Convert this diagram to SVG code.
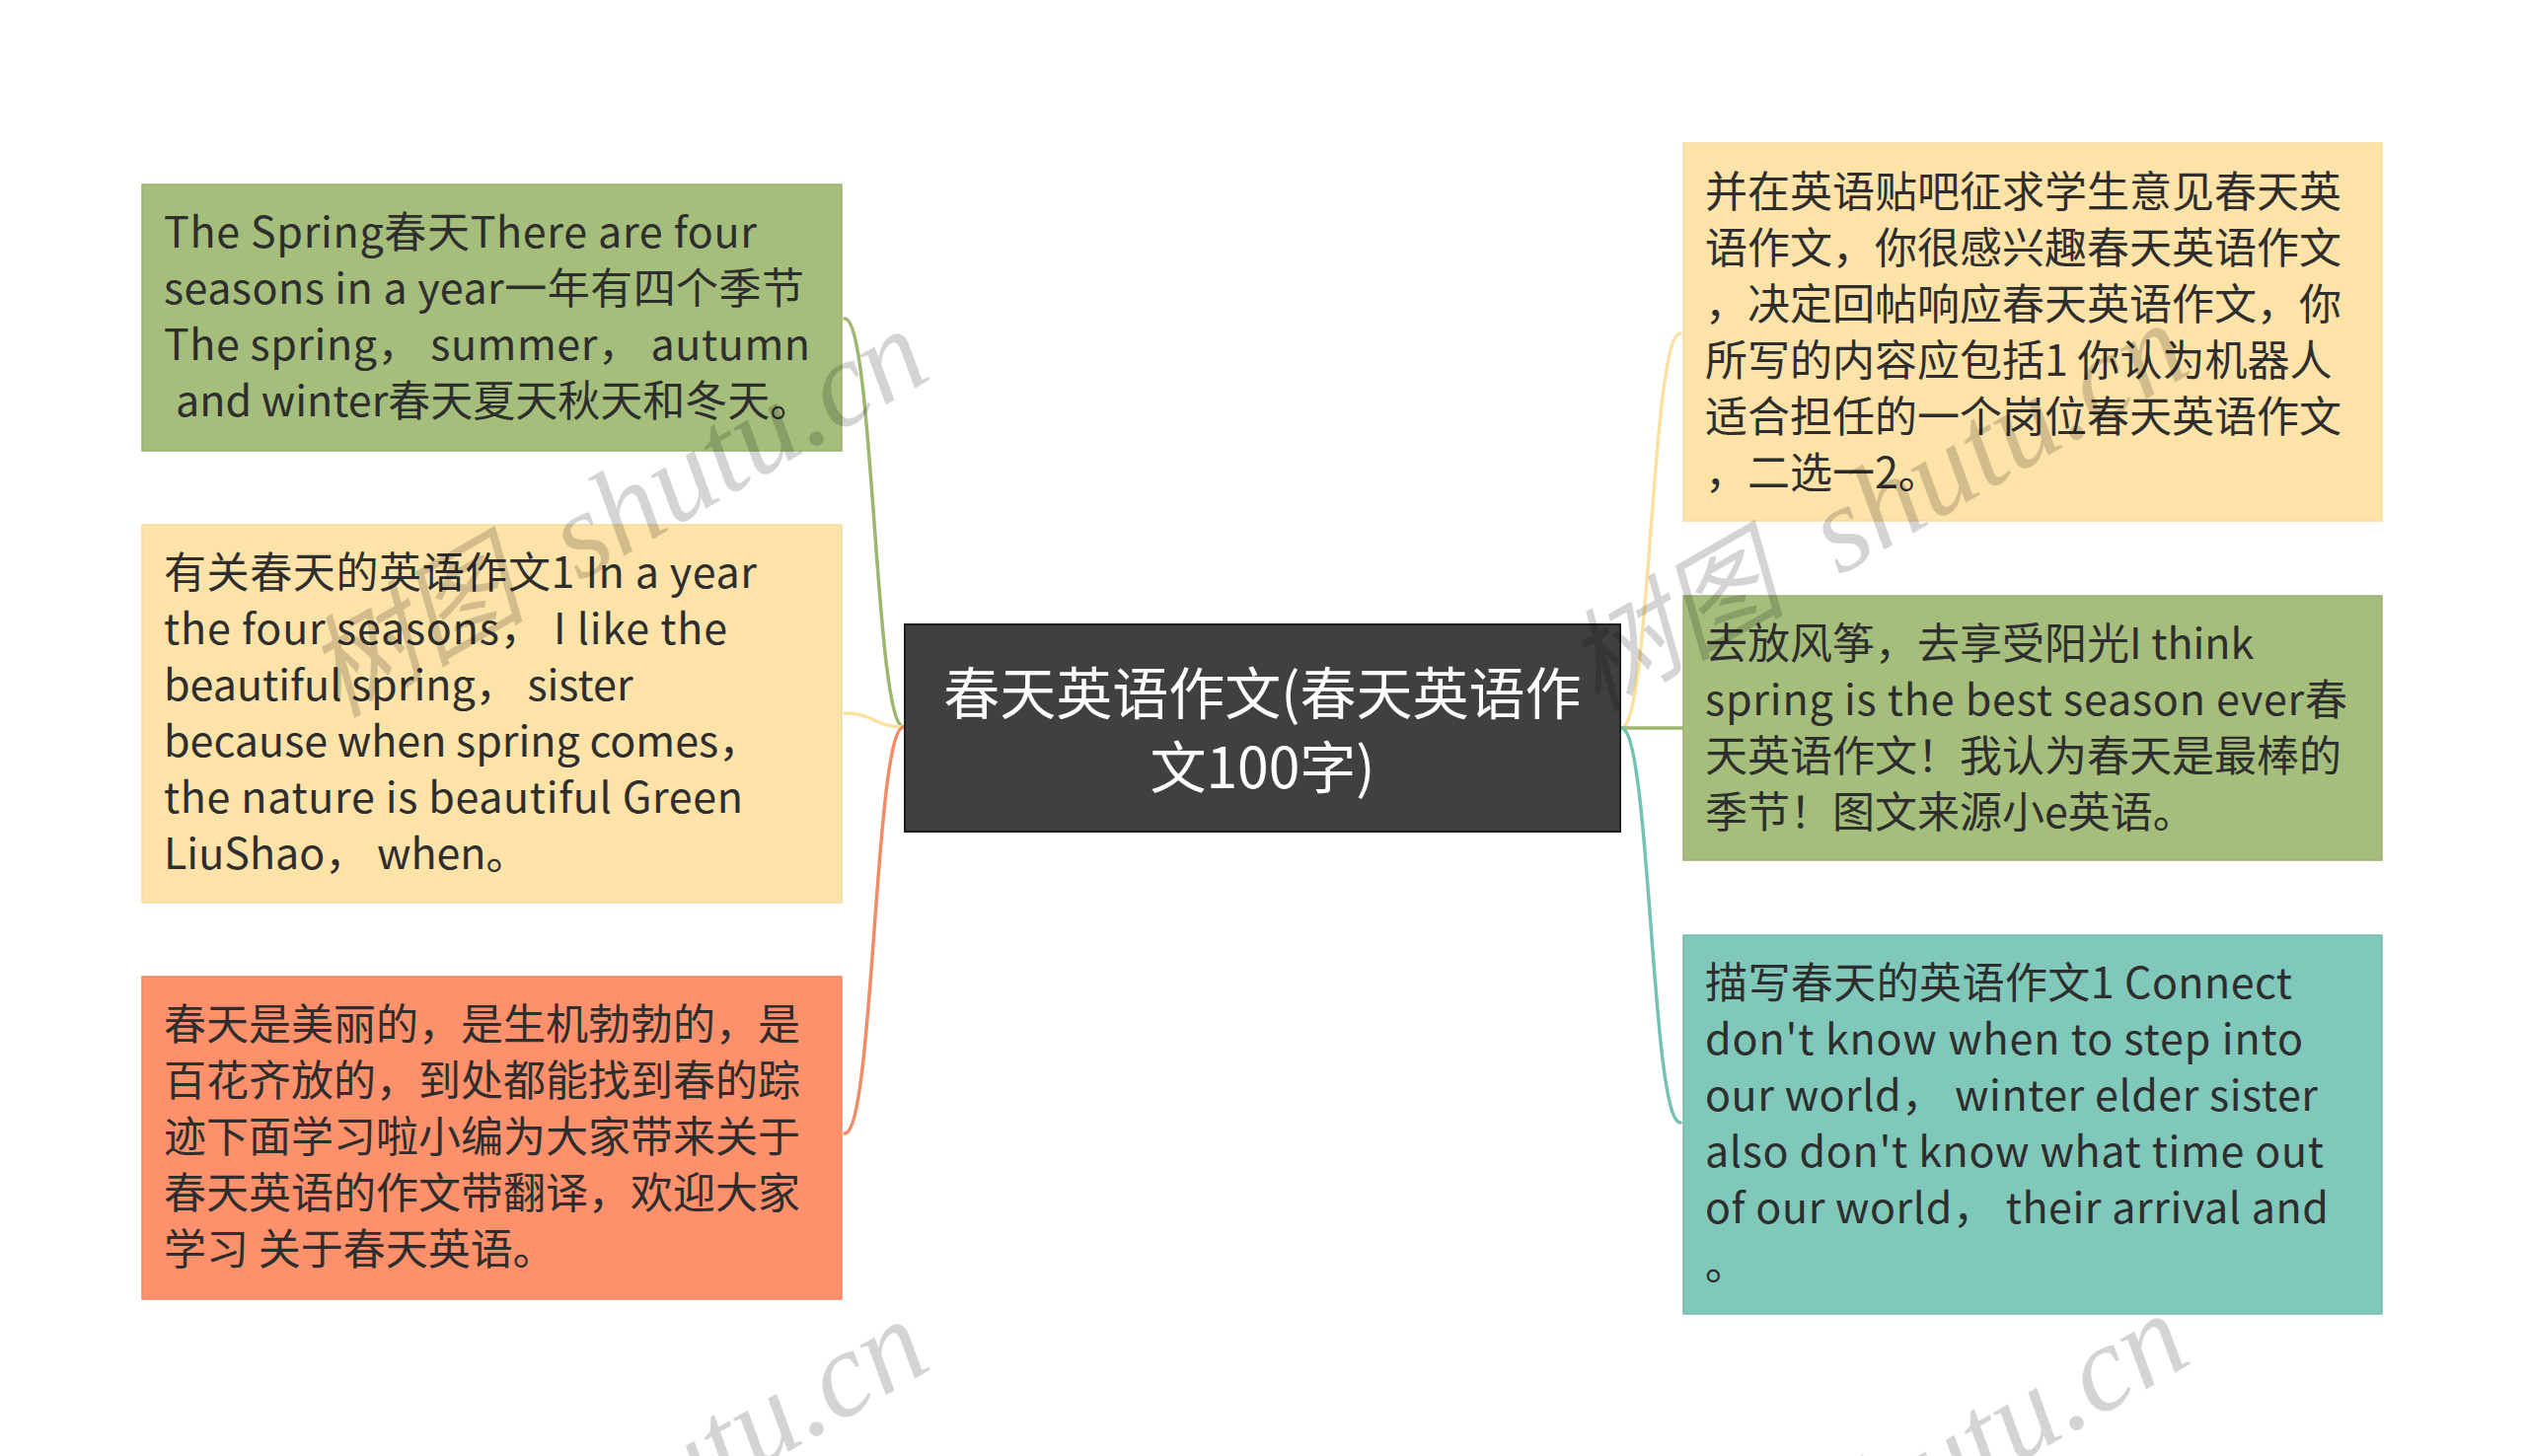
<svg xmlns="http://www.w3.org/2000/svg" width="2560" height="1476" viewBox="0 0 2560 1476">
<style>
  .t { font-family: "Noto Sans CJK SC", "Noto Sans", sans-serif; font-size: 43px; fill: #2e2e2e; }
  .c { font-family: "Noto Sans CJK SC", "Noto Sans", sans-serif; font-size: 57px; fill: #ffffff; text-anchor: middle; }
  .wm { font-family: "Liberation Serif", "Noto Sans CJK SC", serif; font-style: italic; font-size: 124px; fill: #000000; fill-opacity: 0.17; }
  .green { fill: #a5be7b; stroke: #9ab36f; stroke-width: 1.5; }
  .yellow { fill: #fee3a8; stroke: #f6dba0; stroke-width: 1.5; }
  .orange { fill: #fe906b; stroke: #f08862; stroke-width: 1.5; }
  .teal { fill: #80c9ba; stroke: #74bcae; stroke-width: 1.5; }
  .link { fill: none; stroke-width: 3.5; stroke-linecap: round; }
</style>
<rect width="2560" height="1476" fill="#ffffff"/>
<g id="connectors">
  <path class="link" stroke="#9cb870" d="M 916 737 C 886 737, 886 323, 856 323"/>
  <path class="link" stroke="#fbe0a0" d="M 916 737 C 886 737, 886 723, 856 723"/>
  <path class="link" stroke="#f38b67" d="M 916 737 C 886 737, 886 1149, 856 1149"/>
  <path class="link" stroke="#fbe0a0" d="M 1643 738 C 1673 738, 1673 338, 1703 338"/>
  <path class="link" stroke="#9cb870" d="M 1643 738 L 1706 738"/>
  <path class="link" stroke="#74c2b2" d="M 1643 738 C 1673 738, 1673 1138, 1703 1138"/>
</g>
<g id="center">
  <rect x="917" y="633" width="725" height="210" fill="#404040" stroke="#1e1e1e" stroke-width="2"/>
  <text class="c" x="1279.5" y="724">春天英语作文(春天英语作</text>
  <text class="c" x="1279.5" y="799">文100字)</text>
</g>
<g id="left1">
  <rect class="green" x="144" y="187" width="709" height="270"/>
  <text class="t" x="166" y="251" textLength="601">The Spring春天There are four</text>
  <text class="t" x="166" y="308" textLength="649">seasons in a year一年有四个季节</text>
  <text class="t" x="166" y="365" textLength="655">The spring，  summer，  autumn</text>
  <text class="t" x="178" y="422">and winter春天夏天秋天和冬天。</text>
</g>
<g id="left2">
  <rect class="yellow" x="144" y="532" width="709" height="383"/>
  <text class="t" x="166" y="596" textLength="601">有关春天的英语作文1 In a year</text>
  <text class="t" x="166" y="653" textLength="571">the four seasons，  I like the</text>
  <text class="t" x="166" y="710">beautiful spring，  sister</text>
  <text class="t" x="166" y="767">because when spring comes，</text>
  <text class="t" x="166" y="824" textLength="587">the nature is beautiful Green</text>
  <text class="t" x="166" y="881">LiuShao，  when。</text>
</g>
<g id="left3">
  <rect class="orange" x="144" y="990" width="709" height="327"/>
  <text class="t" x="166" y="1054">春天是美丽的，是生机勃勃的，是</text>
  <text class="t" x="166" y="1111">百花齐放的，到处都能找到春的踪</text>
  <text class="t" x="166" y="1168">迹下面学习啦小编为大家带来关于</text>
  <text class="t" x="166" y="1225">春天英语的作文带翻译，欢迎大家</text>
  <text class="t" x="166" y="1282">学习 关于春天英语。</text>
</g>
<g id="right1">
  <rect class="yellow" x="1706" y="145" width="708" height="383"/>
  <text class="t" x="1728" y="210">并在英语贴吧征求学生意见春天英</text>
  <text class="t" x="1728" y="267">语作文，你很感兴趣春天英语作文</text>
  <text class="t" x="1728" y="324">，决定回帖响应春天英语作文，你</text>
  <text class="t" x="1728" y="381">所写的内容应包括1 你认为机器人</text>
  <text class="t" x="1728" y="438">适合担任的一个岗位春天英语作文</text>
  <text class="t" x="1728" y="495">，二选一2。</text>
</g>
<g id="right2">
  <rect class="green" x="1706" y="604" width="708" height="268"/>
  <text class="t" x="1728" y="668">去放风筝，去享受阳光I think</text>
  <text class="t" x="1728" y="725" textLength="651">spring is the best season ever春</text>
  <text class="t" x="1728" y="782">天英语作文！我认为春天是最棒的</text>
  <text class="t" x="1728" y="839">季节！图文来源小e英语。</text>
</g>
<g id="right3">
  <rect class="teal" x="1706" y="948" width="708" height="384"/>
  <text class="t" x="1728" y="1012" textLength="595">描写春天的英语作文1 Connect</text>
  <text class="t" x="1728" y="1069" textLength="606">don't know when to step into</text>
  <text class="t" x="1728" y="1126" textLength="621">our world，  winter elder sister</text>
  <text class="t" x="1728" y="1183" textLength="627">also don't know what time out</text>
  <text class="t" x="1728" y="1240" textLength="632">of our world，  their arrival and</text>
  <text class="t" x="1728" y="1297">。</text>
</g>
<g id="watermarks">
  <text class="wm" transform="translate(372 714) rotate(-30)"><tspan x="-34" y="-3" font-size="112">树图</tspan><tspan x="248" y="0">shutu.cn</tspan></text>
  <text class="wm" transform="translate(1649 708) rotate(-30)"><tspan x="-34" y="-3" font-size="112">树图</tspan><tspan x="248" y="0">shutu.cn</tspan></text>
  <text class="wm" transform="translate(372 1718) rotate(-30)"><tspan x="-34" y="-3" font-size="112">树图</tspan><tspan x="248" y="0">shutu.cn</tspan></text>
  <text class="wm" transform="translate(1649 1712) rotate(-30)"><tspan x="-34" y="-3" font-size="112">树图</tspan><tspan x="248" y="0">shutu.cn</tspan></text>
</g>
</svg>
